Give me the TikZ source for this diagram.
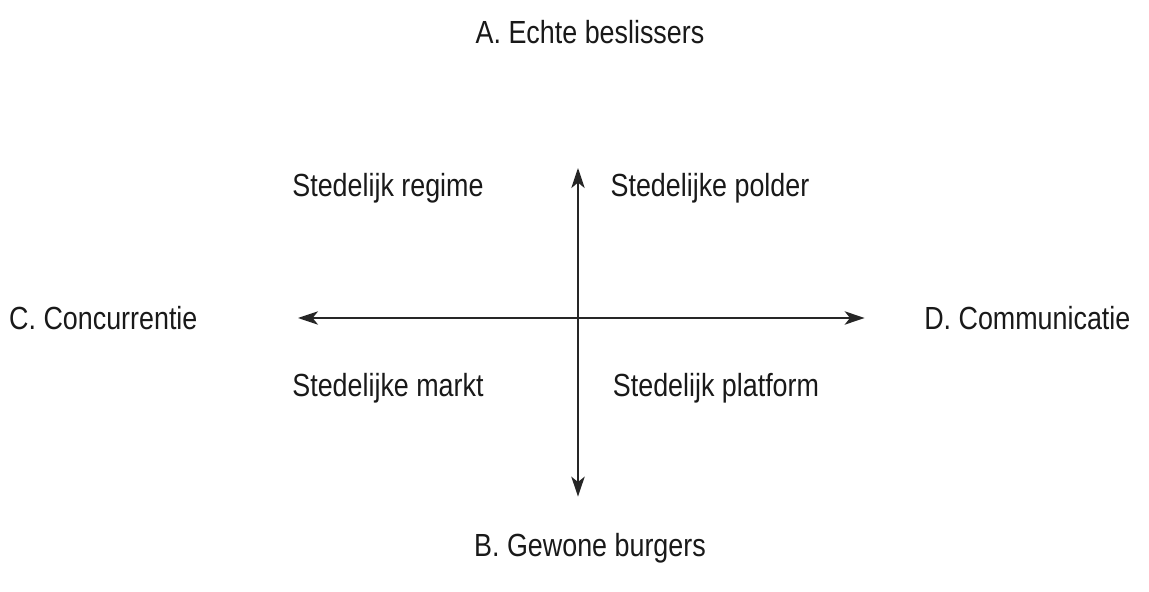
\documentclass[tikz,border=0pt]{standalone}
\usepackage{fontspec}
\setmainfont[FakeStretch=0.84]{Liberation Sans}
\usetikzlibrary{arrows.meta,positioning}

\begin{document}
\begin{tikzpicture}[%
    >={Stealth[length=15pt,width=10pt,inset=4pt]},
    node distance=100pt,
    on grid,
    lbl/.style={font=\fontsize{24}{28}\selectfont, text=black!90, inner sep=0pt},
    axis/.style={<->, line width=1.3pt, black!85}
  ]
    \coordinate (O) at (0,0);
    \useasboundingbox (O) ++(-433.5pt,238.5pt) rectangle ++(861.75pt,-444pt);

    % axis ends
    \coordinate[above=112.5pt of O] (top);
    \coordinate[below=134pt of O]   (bottom);
    \coordinate[left=210pt of O]    (left);
    \coordinate[right=215pt of O]   (right);

    \draw[axis] (top) -- (bottom);
    \draw[axis] (left) -- (right);

    % poles
    \node[lbl, above right=214.5pt and 9pt of O, anchor=center] (A) {A. Echte beslissers};
    \node[lbl, below right=172.5pt and 9pt of O, anchor=center] (B) {B. Gewone burgers};
    \node[lbl, left=356pt of O, anchor=center]  (C) {C. Concurrentie};
    \node[lbl, right=337pt of O, anchor=center] (D) {D. Communicatie};

    % quadrants
    \node[lbl, above left=97.5pt and 142.5pt of O, anchor=center]  (regime)   {Stedelijk regime};
    \node[lbl, above right=97.5pt and 99pt of O, anchor=center]    (polder)   {Stedelijke polder};
    \node[lbl, below left=52.5pt and 142.5pt of O, anchor=center]  (markt)    {Stedelijke markt};
    \node[lbl, below right=52.5pt and 103.5pt of O, anchor=center] (platform) {Stedelijk platform};
  \end{tikzpicture}
\end{document}
